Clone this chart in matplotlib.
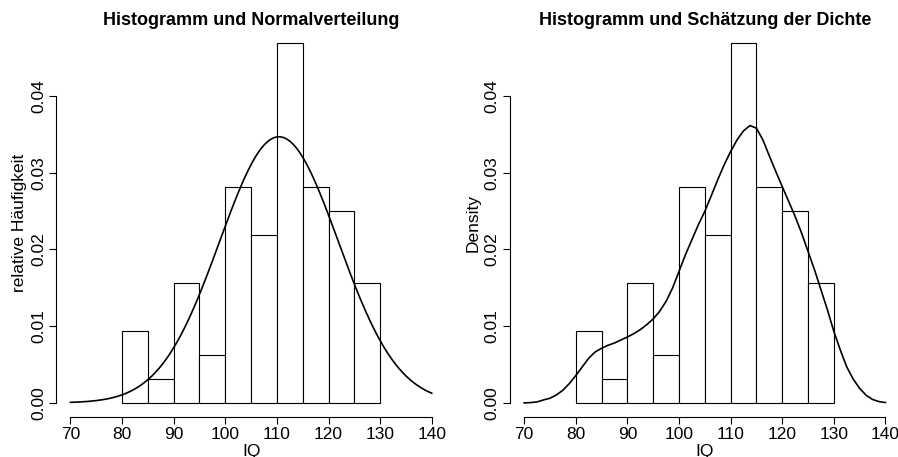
import numpy as np
import matplotlib.pyplot as plt

plt.rcParams['font.family'] = ['Liberation Sans', 'DejaVu Sans']

# Histogramm: Klassengrenzen und Dichten (Anteil / Klassenbreite)
bin_edges = [80, 85, 90, 95, 100, 105, 110, 115, 120, 125, 130]
bin_density = [0.009375, 0.003125, 0.015625, 0.00625, 0.028125,
               0.021875, 0.046875, 0.028125, 0.025, 0.015625]

# Normalverteilung
iq_mean = 110.4
iq_sd = 11.5

kde_x = [70, 71.25, 72.5, 73.75, 75, 76.25, 77.5, 78.75, 80, 81.25, 82.5,
         83.75, 85, 86.25, 87.5, 88.75, 90, 91.25, 92.5, 93.75, 95, 96.25,
         97.5, 98.75, 100, 101.25, 102.5, 103.75, 105, 106.25, 107.5, 108.75,
         110, 111.25, 112.5, 113.75, 115, 116.25, 117.5, 118.75, 120, 121.25,
         122.5, 123.75, 125, 126.25, 127.5, 128.75, 130, 131.25, 132.5,
         133.75, 135, 136.25, 137.5, 138.75, 140]
kde_y = [0.0, 0.00004, 0.00013, 0.00039, 0.00061, 0.00104, 0.00165, 0.00252,
         0.00356, 0.00469, 0.00582, 0.00664, 0.00712, 0.00751, 0.00781,
         0.0082, 0.00859, 0.00903, 0.00955, 0.0102, 0.01094, 0.01194, 0.01324,
         0.01497, 0.01714, 0.01931, 0.02127, 0.02322, 0.02496, 0.027, 0.02908,
         0.03103, 0.03277, 0.03429, 0.03546, 0.03615, 0.03581, 0.03429,
         0.0322, 0.03017, 0.02821, 0.02626, 0.02431, 0.02214, 0.01975,
         0.01736, 0.01476, 0.01215, 0.00933, 0.0069, 0.0047, 0.0031, 0.0019,
         0.001, 0.00045, 0.00017, 0.00005]

titles = ['Histogramm und Normalverteilung', 'Histogramm und Schätzung der Dichte']
ylabels = ['relative Häufigkeit', 'Density']
xticks = [70, 80, 90, 100, 110, 120, 130, 140]
yticks = [0.00, 0.01, 0.02, 0.03, 0.04]

fig = plt.figure(figsize=(8.98, 4.57), dpi=100)
ax1 = fig.add_axes([56 / 898, 1 - 417.3 / 457, 390.2 / 898, 388.4 / 457])
ax2 = fig.add_axes([509.7 / 898, 1 - 417.3 / 457, 390.2 / 898, 388.4 / 457])

fs = 12.5
widths = np.diff(bin_edges)

for i, ax in enumerate([ax1, ax2]):
    ax.bar(bin_edges[:-1], bin_density, width=widths, align='edge',
           facecolor='white', edgecolor='black', linewidth=0.8)
    if i == 0:
        xs = np.linspace(70, 140, 300)
        ys = np.exp(-0.5 * ((xs - iq_mean) / iq_sd) ** 2) / (iq_sd * np.sqrt(2 * np.pi))
        ax.plot(xs, ys, color='black', lw=1.2)
    else:
        ax.plot(kde_x, kde_y, color='black', lw=1.2)

    ax.set_xlim(67.2, 142.8)
    ax.set_ylim(-0.001875, 0.04875)
    for s in ['top', 'right']:
        ax.spines[s].set_visible(False)
    ax.spines['left'].set_bounds(0, 0.04)
    ax.spines['bottom'].set_bounds(70, 140)
    ax.spines['left'].set_linewidth(0.8)
    ax.spines['bottom'].set_linewidth(0.8)
    ax.set_xticks(xticks)
    ax.set_yticks(yticks)
    ax.set_yticklabels(['%.2f' % v for v in yticks], rotation=90, va='center')
    ax.tick_params(length=4.7, width=0.8, labelsize=fs, pad=2.5)
    ax.set_title(titles[i], fontsize=13, fontweight='bold', pad=2)
    ax.set_xlabel('IQ', fontsize=fs, labelpad=1)
    ax.set_ylabel(ylabels[i], fontsize=fs, labelpad=3)

fig.savefig('out.png', dpi=100)
